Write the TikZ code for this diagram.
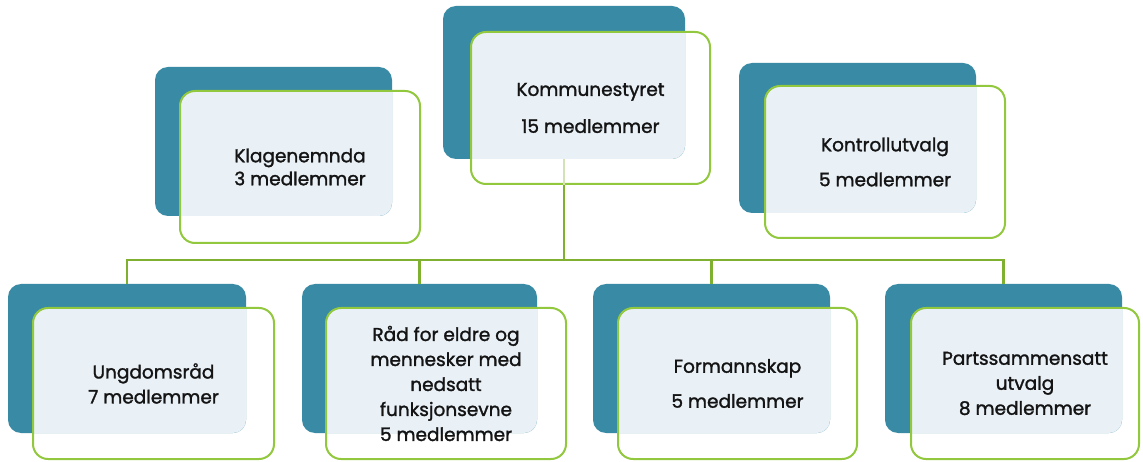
\documentclass[tikz,border=0pt]{standalone}
\usepackage{fontspec}
\setmainfont{Poppins}[FakeBold=1.5]
\usetikzlibrary{fit}
\definecolor{tealback}{RGB}{56,138,165}
\definecolor{lightfill}{RGB}{233,241,247}
\definecolor{greenline}{RGB}{146,200,62}
\definecolor{connline}{RGB}{128,176,48}
\definecolor{txt}{RGB}{20,20,20}
\tikzset{
  backbox/.style={fill=tealback, draw=none, rounded corners=13pt, inner sep=0pt},
  frontbox/.style={draw=greenline, line width=2pt, rounded corners=15pt, inner sep=0pt, fill=none},
  unittext/.style={text=txt, align=center, inner sep=0pt},
  conn/.style={draw=connline, line width=2.2pt},
  faintconn/.style={draw=connline!35, line width=1.2pt},
}
% #1 name, #2 back NW, #3 back SE, #4 front NW, #5 front SE, #6 baselineskip, #7 text
\newcommand\orgunit[7]{%
  \node[backbox, fit={(#2)(#3)}] (#1-back) {};
  \begin{scope}
    \clip[rounded corners=13pt] (#2) rectangle (#3);
    \fill[lightfill, rounded corners=15pt] (#4) rectangle (#5);
  \end{scope}
  \node[frontbox, fit={(#4)(#5)}] (#1) {};
  \node[unittext, font=\fontsize{18.5}{#6}\selectfont] (#1-text) at (#1.center) {#7};
}
\begin{document}
\begin{tikzpicture}[x=1pt, y=-1pt]
  \fill[white] (0,0) rectangle (1143,462);
  \useasboundingbox (0,0) rectangle (1143,462);

  \orgunit{kom}{443,6}{685,159}{471,32}{710,184}{37}{Kommunestyret\\15 medlemmer}
  \orgunit{kla}{155,67}{392,216}{180,91}{420,243}{23}{Klagenemnda\\3 medlemmer}
  \orgunit{kon}{739,63}{976,213}{765,86}{1005,238}{35}{Kontrollutvalg\\5 medlemmer}
  \orgunit{ung}{8,284}{246,433}{33,308}{274,459}{25}{Ungdomsråd\\7 medlemmer}
  \orgunit{rad}{302,284}{537,433}{326,308}{566,459}{25}{Råd for eldre og\\mennesker med\\nedsatt\\funksjonsevne\\5 medlemmer}
  \orgunit{for}{593,284}{830,433}{618,308}{857,459}{35}{Formannskap\\5 medlemmer}
  \orgunit{par}{885,284}{1122,433}{911,308}{1139,459}{25}{Partssammensatt\\utvalg\\8 medlemmer}

  \coordinate (bus) at (0,260);
  \draw[faintconn] (kom-back.center |- kom-back.south) -- (kom-back.center |- kom.south);
  \draw[conn] (kom-back.center |- kom.south) -- (kom-back.center |- bus);
  \draw[conn] (ung-back.north) |- (par-back.north |- bus) -- (par-back.north);
  \draw[conn] (rad-back.north) -- (rad-back.north |- bus);
  \draw[conn] (for-back.north) -- (for-back.north |- bus);
\end{tikzpicture}
\end{document}
